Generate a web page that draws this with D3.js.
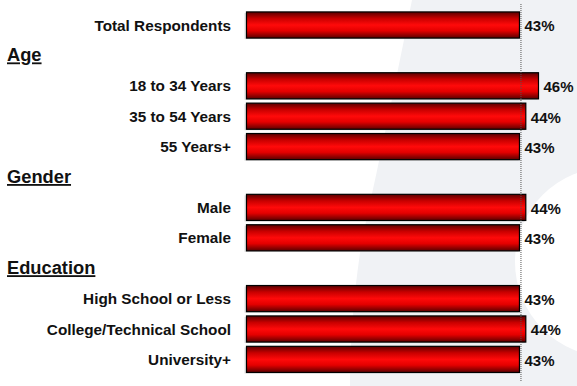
<!DOCTYPE html>
<html>
<head>
<meta charset="utf-8">
<script src="https://cdn.jsdelivr.net/npm/d3@7"></script>
<style>
  html, body { margin: 0; padding: 0; background: #fff; }
  svg { display: block; }
</style>
</head>
<body>
<svg id="chart" width="577" height="386"></svg>
<script>
// Row layout, top to bottom: group headers and the bars beneath them
const rows = [
  "Total Respondents",
  "Age",
  "18 to 34 Years",
  "35 to 54 Years",
  "55 Years+",
  "Gender",
  "Male",
  "Female",
  "Education",
  "High School or Less",
  "College/Technical School",
  "University+"
];
const headers = ["Age", "Gender", "Education"];
const categories = [
  "Total Respondents",
  "18 to 34 Years",
  "35 to 54 Years",
  "55 Years+",
  "Male",
  "Female",
  "High School or Less",
  "College/Technical School",
  "University+"
];
const values = [43, 46, 44, 43, 44, 43, 43, 44, 43];
const referenceValue = 43;

const width = 577, height = 386;
const svg = d3.select("#chart");

// Faint background watermark
const bg = svg.append("g");
bg.append("path")
  .attr("d", "M412,0 C400,60 382,150 362,240 C354,290 350,340 350,386 L577,386 L577,0 Z")
  .attr("fill", "#f0f2f5");
bg.append("circle")
  .attr("cx", 610).attr("cy", 262).attr("r", 95)
  .attr("fill", "#ffffff");

const x = d3.scaleLinear().domain([0, 46]).range([246.5, 538.5]);
const y = d3.scaleBand().domain(rows).range([9.8, 374.6])
  .paddingInner(0.14).paddingOuter(0.07);

// Bar gradient: dark edges, bright red centre
const defs = svg.append("defs");
const grad = defs.append("linearGradient")
  .attr("id", "barFill").attr("x1", 0).attr("y1", 0).attr("x2", 0).attr("y2", 1);
grad.append("stop").attr("offset", "0%").attr("stop-color", "#5a0000");
grad.append("stop").attr("offset", "25%").attr("stop-color", "#c80000");
grad.append("stop").attr("offset", "50%").attr("stop-color", "#ff0a0a");
grad.append("stop").attr("offset", "72%").attr("stop-color", "#e40000");
grad.append("stop").attr("offset", "100%").attr("stop-color", "#5a0000");

const data = categories.map((c, i) => ({ label: c, value: values[i] }));

// Soft shadow behind each bar
svg.append("g").selectAll("rect")
  .data(data).join("rect")
  .attr("x", x(0) - 2)
  .attr("y", d => y(d.label) + 1)
  .attr("width", d => x(d.value) - x(0) + 1)
  .attr("height", y.bandwidth())
  .attr("fill", "#c8c8c8")
  .attr("opacity", 0.6);

svg.append("g").selectAll("rect")
  .data(data).join("rect")
  .attr("x", x(0))
  .attr("y", d => y(d.label))
  .attr("width", d => x(d.value) - x(0))
  .attr("height", y.bandwidth())
  .attr("fill", "url(#barFill)")
  .attr("stroke", "#000")
  .attr("stroke-width", 1.2);

// Dotted reference line at the overall value
svg.append("line")
  .attr("x1", x(referenceValue) + 1.5).attr("x2", x(referenceValue) + 1.5)
  .attr("y1", 4).attr("y2", 382)
  .attr("stroke", "#555")
  .attr("stroke-width", 1)
  .attr("stroke-dasharray", "1,1");

// Category labels
svg.append("g").selectAll("text")
  .data(data).join("text")
  .attr("x", 231)
  .attr("y", d => y(d.label) + y.bandwidth() / 2)
  .attr("dy", "0.36em")
  .attr("text-anchor", "end")
  .attr("font-family", "Arial, 'Liberation Sans', sans-serif")
  .attr("font-weight", "bold")
  .attr("font-size", 15.3)
  .attr("fill", "#111")
  .text(d => d.label);

// Value labels
svg.append("g").selectAll("text")
  .data(data).join("text")
  .attr("x", d => x(d.value) + 5)
  .attr("y", d => y(d.label) + y.bandwidth() / 2)
  .attr("dy", "0.42em")
  .attr("font-family", "Arial, 'Liberation Sans', sans-serif")
  .attr("font-weight", "bold")
  .attr("font-size", 15)
  .attr("fill", "#111")
  .text(d => d.value + "%");

// Group headers
svg.append("g").selectAll("text")
  .data(headers).join("text")
  .attr("x", 7)
  .attr("y", d => y(d) + y.bandwidth() / 2 + 6)
  .attr("font-family", "Arial, 'Liberation Sans', sans-serif")
  .attr("font-weight", "bold")
  .attr("font-size", 18.3)
  .attr("text-decoration", "underline")
  .attr("fill", "#111")
  .text(d => d);
</script>
</body>
</html>
